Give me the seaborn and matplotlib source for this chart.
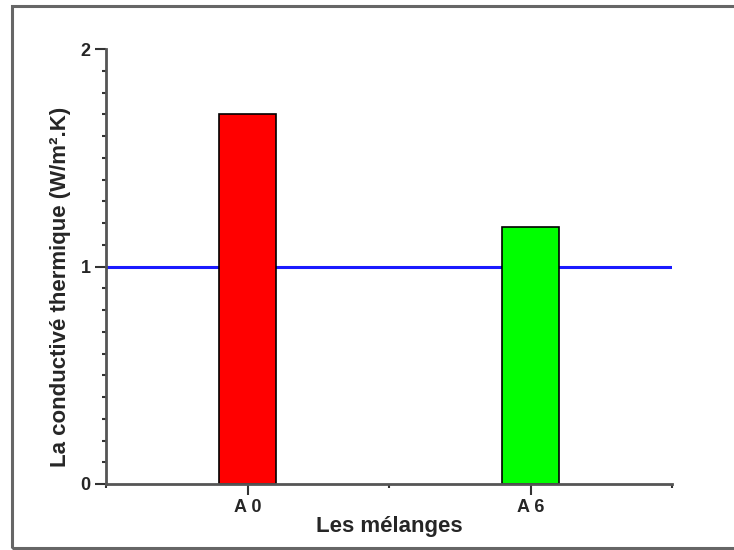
import matplotlib
matplotlib.use("Agg")
import matplotlib.pyplot as plt
from matplotlib.patches import Rectangle
from matplotlib.ticker import MultipleLocator
import seaborn as sns
import pandas as pd

# Thermal conductivity of the two mixes
melanges = ["A 0", "A 6"]
conductivite = [1.70, 1.18]
couleurs = ["#FF0000", "#00FF00"]
reference = 1.0

sns.set_theme(style="white")
plt.rcParams["font.family"] = ["Liberation Sans", "DejaVu Sans"]
plt.rcParams["font.weight"] = "bold"

df = pd.DataFrame({"melange": melanges, "k": conductivite})

fig = plt.figure(figsize=(7.34, 5.5), dpi=100)
ax = fig.add_axes([106 / 734, 1 - 484 / 550, 566 / 734, 435 / 550])

# Reference level drawn behind the bars
ax.axhline(reference, color="#1a1aff", lw=2.2, zorder=1)

sns.barplot(data=df, x="melange", y="k", hue="melange", palette=couleurs,
            saturation=1, width=0.2, edgecolor="black", linewidth=1.2,
            legend=False, ax=ax, zorder=2)

ax.set_xlim(-0.5, 1.5)
ax.set_ylim(0, 2)
ax.yaxis.set_major_locator(MultipleLocator(1))
ax.yaxis.set_minor_locator(MultipleLocator(0.1))
ax.xaxis.set_minor_locator(MultipleLocator(0.5))

for side in ("top", "right"):
    ax.spines[side].set_visible(False)
for side in ("left", "bottom"):
    ax.spines[side].set_color("#555555")
    ax.spines[side].set_linewidth(2)

ax.tick_params(axis="both", which="major", direction="out", length=8,
               width=1.5, color="#333333", labelsize=13, pad=3,
               left=True, bottom=True)
ax.tick_params(axis="both", which="minor", direction="out", length=3,
               width=1.5, color="#333333", left=True, bottom=True)
for lab in ax.get_xticklabels() + ax.get_yticklabels():
    lab.set_fontweight("bold")

ax.set_xlabel("Les mélanges", fontsize=16, fontweight="bold", labelpad=0)
ax.set_ylabel("La conductivé thermique (W/m².K)",
              fontsize=16, fontweight="bold")
ax.yaxis.set_label_coords(-0.062, 0.453)

# Outer frame around the figure
fig.patches.append(Rectangle((12 / 734, 2 / 550), 1.0, 542 / 550,
                             transform=fig.transFigure, fill=False,
                             edgecolor="#666666", linewidth=2.2))

fig.savefig("out.png", dpi=100)
